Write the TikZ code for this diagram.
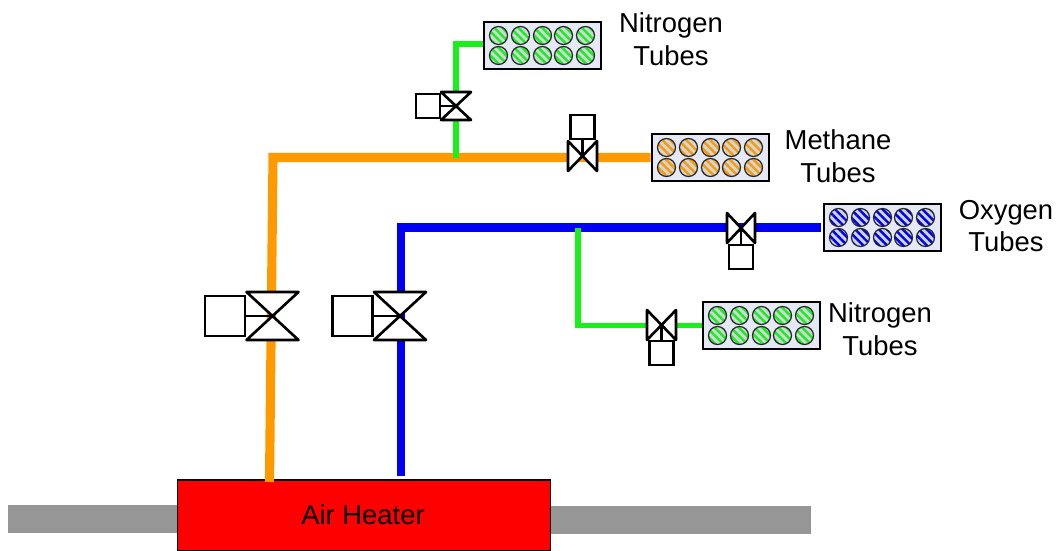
\documentclass[tikz,border=0pt]{standalone}
\usepackage{fontspec}
\setmainfont{Liberation Sans}
\usetikzlibrary{patterns.meta}

\definecolor{pipeorange}{HTML}{FF9900}
\definecolor{pipegreen}{HTML}{19F019}
\definecolor{pipeblue}{HTML}{0000F5}
\definecolor{bankfill}{HTML}{E4E9F5}
\definecolor{tubefill}{HTML}{CFD6DC}
\definecolor{ductgrey}{HTML}{969696}

\tikzset{
    pipe/.style={line join=miter, line cap=butt},
    orangepipe/.style={pipe, draw=pipeorange, line width=5.2pt},
    bluepipe/.style={pipe, draw=pipeblue, line width=4.6pt},
    greenpipe/.style={pipe, draw=pipegreen, line width=3pt},
    valveline/.style={draw=black, fill=white, line width=1.5pt, line join=round},
    actuator/.style={draw=black, fill=white, line width=1.5pt, rectangle, inner sep=0pt, minimum width=#1, minimum height=#1},
    tubebank/.style={draw=black, fill=bankfill, line width=1.5pt, rectangle, inner sep=0pt, minimum width=2.34cm, minimum height=0.94cm},
    tube/.style={draw=black!85, line width=0.7pt, preaction={fill=tubefill},
        pattern={Lines[angle=-45, distance=3.2pt, line width=1.4pt]}, pattern color=#1},
    duct/.style={fill=ductgrey, draw=none},
    label/.style={font=\fontsize{15.6}{18.7}\selectfont, align=center, inner sep=0pt}
}

% valve on a vertical pipe: name, x, y, half width, half height
\newcommand{\upvalve}[5]{
    \coordinate (#1) at (#2,#3);
    \draw[valveline] (#1) -- ++(-#4,-#5) -- ++({2*#4},0) -- cycle;
    \draw[valveline] (#1) -- ++(-#4,#5) -- ++({2*#4},0) -- cycle;
}
% valve on a horizontal pipe: name, x, y, half width, half height
\newcommand{\sidevalve}[5]{
    \coordinate (#1) at (#2,#3);
    \draw[valveline] (#1) -- ++(-#4,-#5) -- ++(0,{2*#5}) -- cycle;
    \draw[valveline] (#1) -- ++(#4,-#5) -- ++(0,{2*#5}) -- cycle;
}
% tube bank: name, x, y, colour
\newcommand{\bank}[4]{
    \node[tubebank] (#1) at (#2,#3) {};
    \foreach \dx in {-44,-22,0,21,43}
        \foreach \dy in {-10,10}
            \path[tube=#4] (#2+\dx,#3+\dy) circle (9);
}

\begin{document}
\begin{tikzpicture}[x=0.02cm, y=-0.02cm]
    \useasboundingbox (0,0) rectangle (1056,551);

    % Ducts and Heater
    \path[duct] (8,505) rectangle (180,533);
    \path[duct] (548,506) rectangle (811,534);
    \node[draw=black, fill=red, line width=0.6pt, inner sep=0pt, minimum width=7.48cm, minimum height=1.42cm] (heater) at (364,515.5) {};
    \node[label] (heaterlabel) at (363,515) {Air Heater};

    % Tube Banks
    \bank{nitrogentop}{542.5}{45.5}{pipegreen}
    \bank{methane}{710.5}{157.5}{pipeorange}
    \bank{oxygen}{882.5}{227.5}{pipeblue}
    \bank{nitrogenlow}{761.5}{325.5}{pipegreen}

    % Labels
    \node[label] (nitrogentoplabel) at (671,39) {Nitrogen\\Tubes};
    \node[label] (methanelabel) at (838,156) {Methane\\Tubes};
    \node[label] (oxygenlabel) at (1006,226) {Oxygen\\Tubes};
    \node[label] (nitrogenlowlabel) at (880,329) {Nitrogen\\Tubes};

    % Pipe Corners
    \coordinate (orangebase) at (269.5,482);
    \coordinate (orangecorner) at (273,157.5);
    \coordinate (bluebase) at (401,476);
    \coordinate (bluecorner) at (401,227.5);
    \coordinate (greentee) at (456,158);
    \coordinate (greencorner) at (456,44);
    \coordinate (bluetee) at (578,228);
    \coordinate (lowcorner) at (578,325.5);
    \coordinate (blueend) at (821,227.5);

    % Pipes
    \draw[orangepipe] (orangebase) -- (orangecorner) -- (methane.west);
    \draw[greenpipe] (greentee) -- (greencorner) -- (greencorner -| nitrogentop.west);
    \draw[bluepipe] (bluebase) -- (bluecorner) -- (blueend);
    \draw[greenpipe] (bluetee) -- (lowcorner) -- (nitrogenlow.west);

    % Valves
    \upvalve{orangevalve}{272.5}{316}{26}{24}
    \upvalve{bluevalve}{400}{316}{26}{24}
    \upvalve{greenvalve}{456}{106}{15}{14}
    \sidevalve{methanevalve}{582.5}{156}{14.5}{15}
    \sidevalve{oxygenvalve}{741}{228}{14}{15}
    \sidevalve{lowvalve}{661.5}{325}{14.5}{15}

    % Actuators
    \draw[valveline] (orangevalve) -- (245,316);
    \draw[valveline] (bluevalve) -- (372,316);
    \draw[valveline] (greenvalve) -- (440,106);
    \draw[valveline] (methanevalve) -- (582.5,139);
    \draw[valveline] (oxygenvalve) -- (741,245);
    \draw[valveline] (lowvalve) -- (661.5,341);
    \node[actuator=0.8cm] (orangeact) at (225,316) {};
    \node[actuator=0.8cm] (blueact) at (352.5,316) {};
    \node[actuator=0.48cm] (greenact) at (428,106) {};
    \node[actuator=0.48cm] (methaneact) at (582.5,127) {};
    \node[actuator=0.48cm] (oxygenact) at (741,257) {};
    \node[actuator=0.48cm] (lowact) at (661.5,353) {};
\end{tikzpicture}
\end{document}
